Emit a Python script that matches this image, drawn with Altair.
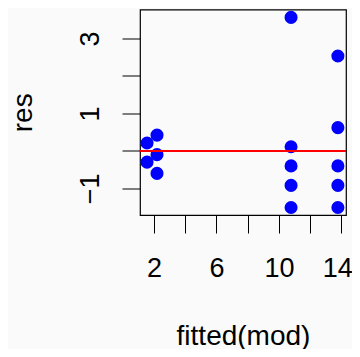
import altair as alt
import pandas as pd

fitted = [1.55, 1.55, 2.19, 2.19, 2.19,
          10.78, 10.78, 10.78, 10.78, 10.78,
          13.78, 13.78, 13.78, 13.78, 13.78]
res = [0.21, -0.30, 0.42, -0.10, -0.60,
       3.56, 0.11, -0.40, -0.92, -1.51,
       2.53, 0.62, -0.40, -0.92, -1.51]
x_ticks = [2, 4, 6, 8, 10, 12, 14]
y_ticks = [-1, 0, 1, 2, 3]

df = pd.DataFrame({"fitted": fitted, "res": res})
FONT = "Liberation Sans"
FS = 27
TFS = 28

x_scale = alt.Scale(domain=[1.10, 14.30], nice=False, zero=False)
y_scale = alt.Scale(domain=[-1.71, 3.77], nice=False, zero=False)

x_axis = alt.Axis(values=x_ticks, title="fitted(mod)", grid=False, domain=False,
                  tickSize=18, tickColor="black", tickWidth=1,
                  labelExpr="datum.value % 4 == 2 ? datum.label : ''",
                  labelFont=FONT, labelFontSize=FS, labelColor="black",
                  labelPadding=22, labelBaseline="top", labelAlign="center",
                  labelOffset={"condition": {"test": "datum.value == 14", "value": -4}, "value": 0},
                  labelFlush=False, labelOverlap=False,
                  titleFont=FONT, titleFontSize=TFS, titleFontWeight="normal",
                  titleColor="black", titleY=129, titleBaseline="alphabetic")
y_axis = alt.Axis(values=y_ticks, title="res", grid=False, domain=False,
                  tickSize=18, tickColor="black", tickWidth=1,
                  labelExpr="datum.value % 2 != 0 ? datum.label : ''",
                  labelFont=FONT, labelFontSize=FS, labelColor="black",
                  labelAngle=270, labelAlign="center", labelBaseline="alphabetic",
                  labelPadding=24, labelFlush=False, labelOverlap=False,
                  titleFont=FONT, titleFontSize=TFS, titleFontWeight="normal",
                  titleColor="black", titleAngle=270, titleX=-109,
                  titleBaseline="alphabetic")

points = alt.Chart(df).mark_circle(size=170, color="#0000ff", opacity=1).encode(
    x=alt.X("fitted:Q", scale=x_scale, axis=x_axis),
    y=alt.Y("res:Q", scale=y_scale, axis=y_axis),
)
zero_line = alt.Chart(pd.DataFrame({"z": [0]})).mark_rule(color="#ff0000", strokeWidth=2).encode(
    y=alt.Y("z:Q", scale=y_scale)
)

chart = alt.layer(points, zero_line).properties(
    width=206, height=205.5,
    autosize=alt.AutoSizeParams(type="none"),
    padding={"left": 132, "top": 1.5, "right": 6, "bottom": 134},
    background="#fafafa",
).configure_view(stroke="black", strokeWidth=1.2)

chart.save("out.html", embed_options={"renderer": "svg", "actions": False})
